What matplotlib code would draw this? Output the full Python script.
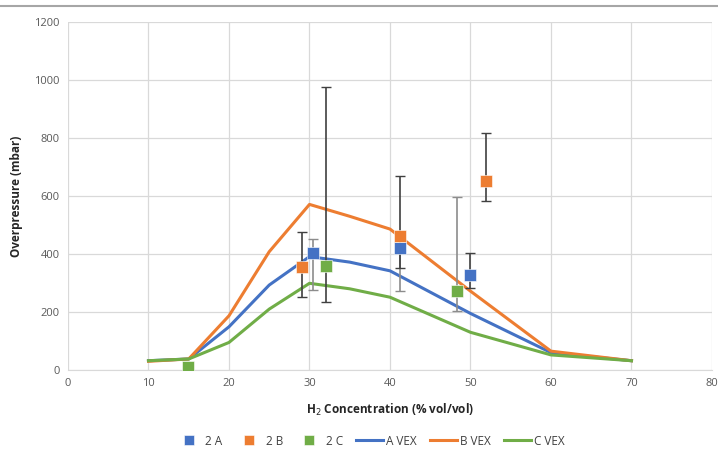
import matplotlib
matplotlib.use("Agg")
import matplotlib.pyplot as plt
from matplotlib.lines import Line2D

plt.rcParams['font.family'] = ['Open Sans', 'DejaVu Sans']

# Simulated (VEX) curves
vex_x = [10, 15, 20, 25, 30, 35, 40, 50, 60, 70]
a_vex = [32, 38, 149, 293, 391, 372, 342, 195, 60, 32]
b_vex = [30, 38, 187, 408, 571, 530, 486, 272, 65, 32]
c_vex = [32, 38, 95, 210, 299, 280, 251, 130, 52, 32]

# Experimental points with asymmetric error bars
a_x = [30.4, 41.2, 49.9]
a_y = [403, 420, 328]
a_lo = [277, 273, 283]
a_hi = [452, 472, 402]

b_x = [29.1, 41.3, 51.9]
b_y = [355, 463, 651]
b_lo = [251, 351, 584]
b_hi = [477, 670, 818]

c_x = [14.9, 32.1, 48.3]
c_y = [10, 357, 274]
c_lo = [10, 236, 205]
c_hi = [10, 975, 598]

x_ticks = [0, 10, 20, 30, 40, 50, 60, 70, 80]
y_ticks = [0, 200, 400, 600, 800, 1000, 1200]

BLUE = '#4472C4'
ORANGE = '#ED7D31'
GREEN = '#70AD47'
DARK = '#404040'
GREY = '#8c8c8c'

fig = plt.figure(figsize=(7.18, 4.51), dpi=100)
ax = fig.add_axes([0.0947, 0.1796, 0.8969, 0.7716])

ax.plot(vex_x, a_vex, color=BLUE, lw=2.2, label='A VEX', zorder=3)
ax.plot(vex_x, b_vex, color=ORANGE, lw=2.2, label='B VEX', zorder=3)
ax.plot(vex_x, c_vex, color=GREEN, lw=2.2, label='C VEX', zorder=3)


def points(xs, ys, lo, hi, color, ecolors, label):
    for x, y, l, h, ec in zip(xs, ys, lo, hi, ecolors):
        if h > l:
            ax.errorbar([x], [y], yerr=[[y - l], [h - y]], fmt='none', ecolor=ec,
                        elinewidth=1.2, capsize=3.5, capthick=1.0, zorder=4)
    ax.plot(xs, ys, 's', color=color, ms=8.5, mec='white', mew=0.4,
            label=label, zorder=5, linestyle='none')


points(a_x, a_y, a_lo, a_hi, BLUE, [GREY, GREY, DARK], '2 A')
points(b_x, b_y, b_lo, b_hi, ORANGE, [DARK, DARK, DARK], '2 B')
points(c_x, c_y, c_lo, c_hi, GREEN, [DARK, DARK, GREY], '2 C')

ax.set_xlim(0, 80)
ax.set_ylim(0, 1200)
ax.set_xticks(x_ticks)
ax.set_yticks(y_ticks)
ax.grid(True, color='#d9d9d9', lw=0.9)
ax.set_axisbelow(True)
for side in ['top', 'right', 'left']:
    ax.spines[side].set_visible(False)
ax.spines['bottom'].set_color('#d9d9d9')
ax.tick_params(length=0, labelsize=8, colors='#595959', pad=6)

ax.set_xlabel('H$_2$ Concentration (% vol/vol)', fontsize=8.5, fontweight='bold',
              color='#262626', labelpad=9)
ax.set_ylabel('Overpressure (mbar)', fontsize=8.5, fontweight='bold',
              color='#262626', labelpad=8)

handles, labels = ax.get_legend_handles_labels()
order = [labels.index(n) for n in ['2 A', '2 B', '2 C', 'A VEX', 'B VEX', 'C VEX']]
leg = fig.legend([handles[i] for i in order], [labels[i] for i in order],
                 loc='center', bbox_to_anchor=(0.515, 0.022), ncol=6, frameon=False,
                 fontsize=8.5, handlelength=2.3, columnspacing=1.1,
                 handletextpad=0.25, markerscale=0.85)
for t in leg.get_texts():
    t.set_color('#404040')

fig.add_artist(Line2D([0, 1], [0.986, 0.986], transform=fig.transFigure,
                      color='#a6a6a6', lw=1.5))

fig.savefig('out.png', dpi=100)
